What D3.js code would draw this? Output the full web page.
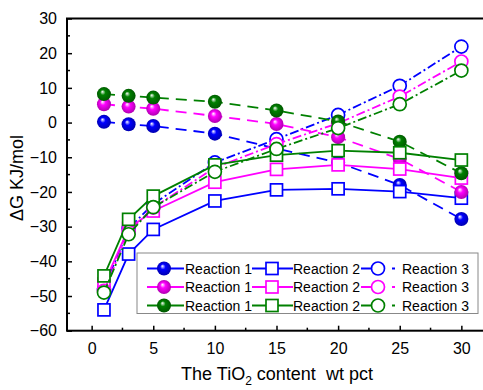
<!DOCTYPE html>
<html>
<head>
<meta charset="utf-8">
<script src="https://d3js.org/d3.v7.min.js"></script>
<style>
  body { margin: 0; background: #fff; }
  text { font-family: "Liberation Sans", Arial, sans-serif; }
</style>
</head>
<body>
<script>
    // TiO2 content, wt pct
    let tio2 = [1, 3, 5, 10, 15, 20, 25, 30];

    // Reaction 1 (spheres, dashed)
    let r1Blue    = [0.2, -0.5, -1.0, -3.2, -7.5, -11.5, -18.0, -27.8];
    let r1Magenta = [5.3, 4.6, 4.0, 1.9, -0.4, -4.2, -10.5, -20.0];
    let r1Green   = [8.2, 7.7, 7.2, 6.0, 3.5, 0.3, -5.5, -14.6];

    // Reaction 2 (open squares, solid)
    let r2Blue    = [-54.0, -37.9, -30.8, -22.6, -19.4, -19.1, -19.9, -21.8];
    let r2Magenta = [-46.5, -30.5, -25.5, -17.2, -13.5, -12.2, -13.4, -16.0];
    let r2Green   = [-44.2, -27.9, -21.2, -12.2, -9.4, -8.1, -8.7, -10.8];

    // Reaction 3 (open circles, dash-dot)
    let r3Blue    = [-48.0, -30.5, -23.5, -11.5, -4.8, 2.2, 10.6, 21.9];
    let r3Magenta = [-48.5, -31.5, -24.5, -13.0, -6.2, -0.2, 7.5, 17.6];
    let r3Green   = [-49.0, -32.2, -24.4, -14.2, -7.6, -1.6, 5.3, 15.0];

    let colors = ["#0000ff", "#ff00ff", "#008000"];
    let reactions = ["Reaction 1", "Reaction 2", "Reaction 3"];

    let xTicks = [0, 5, 10, 15, 20, 25, 30];
    let yTicks = [-60, -50, -40, -30, -20, -10, 0, 10, 20, 30];

    let series = [
        {color: 0, kind: 0, values: r1Blue},
        {color: 0, kind: 1, values: r2Blue},
        {color: 0, kind: 2, values: r3Blue},
        {color: 1, kind: 0, values: r1Magenta},
        {color: 1, kind: 1, values: r2Magenta},
        {color: 1, kind: 2, values: r3Magenta},
        {color: 2, kind: 0, values: r1Green},
        {color: 2, kind: 1, values: r2Green},
        {color: 2, kind: 2, values: r3Green}
    ];

    let dashes = ["11,7", null, "9,3,2,3"];

    let width = 483, height = 390;
    let mLeft = 67, mRight = 486, mTop = 18.5, mBottom = 330.7;

    let svg = d3.select("body").append("svg")
        .attr("width", width)
        .attr("height", height);

    let x = d3.scaleLinear().domain([-2, 32]).range([mLeft, mRight]);
    let y = d3.scaleLinear().domain([-60, 30]).range([mBottom, mTop]);

    // gradients for the shaded spheres
    let defs = svg.append("defs");
    colors.forEach((c, i) => {
        let g = defs.append("radialGradient")
            .attr("id", "ball" + i)
            .attr("cx", "50%").attr("cy", "50%").attr("r", "55%")
            .attr("fx", "38%").attr("fy", "32%");
        g.append("stop").attr("offset", "0%").attr("stop-color", "#ffffff");
        g.append("stop").attr("offset", "35%").attr("stop-color", c);
        g.append("stop").attr("offset", "100%").attr("stop-color", d3.color(c).darker(1.2));
    });

    // axes (ticks inward)
    let xAxis = d3.axisBottom(x).tickValues(xTicks).tickSizeInner(-5).tickSizeOuter(0).tickPadding(12);
    let yAxis = d3.axisLeft(y).tickValues(yTicks).tickSizeInner(-5).tickSizeOuter(0).tickPadding(10);

    let gx = svg.append("g").attr("transform", `translate(0,${mBottom})`).call(xAxis);
    let gy = svg.append("g").attr("transform", `translate(${mLeft},0)`).call(yAxis);
    [gx, gy].forEach(g => {
        g.select(".domain").remove();
        g.selectAll(".tick line").attr("stroke", "#000").attr("stroke-width", 1.5);
        g.selectAll(".tick text").attr("font-size", 16).attr("fill", "#000")
            .style("font-family", "'Liberation Sans', Arial, sans-serif");
    });

    // minor ticks
    let xMinor = d3.range(-2.5, 32, 5).filter(v => v > -2 && v < 32);
    let yMinor = d3.range(-55, 30, 10);
    svg.append("g").selectAll("line").data(xMinor).join("line")
        .attr("x1", d => x(d)).attr("x2", d => x(d))
        .attr("y1", mBottom).attr("y2", mBottom - 3)
        .attr("stroke", "#000").attr("stroke-width", 1.5);
    svg.append("g").selectAll("line").data(yMinor).join("line")
        .attr("x1", mLeft).attr("x2", mLeft + 3)
        .attr("y1", d => y(d)).attr("y2", d => y(d))
        .attr("stroke", "#000").attr("stroke-width", 1.5);

    // frame
    svg.append("rect")
        .attr("x", mLeft).attr("y", mTop)
        .attr("width", mRight - mLeft).attr("height", mBottom - mTop)
        .attr("fill", "none").attr("stroke", "#000").attr("stroke-width", 2);

    // axis titles
    svg.append("text")
        .attr("transform", "translate(23,178) rotate(-90)")
        .attr("text-anchor", "middle")
        .attr("font-size", 18)
        .text("ΔG KJ/mol");

    let xt = svg.append("text")
        .attr("x", 277).attr("y", 380)
        .attr("text-anchor", "middle")
        .attr("font-size", 18);
    xt.append("tspan").text("The TiO");
    xt.append("tspan").attr("font-size", 12).attr("dy", 5).text("2");
    xt.append("tspan").attr("dy", -5).text(" content\u00a0\u00a0wt pct");

    let line = d3.line().x((d, i) => x(tio2[i])).y(d => y(d));

    function drawMarker(g, kind, colorIdx, cx, cy) {
        let c = colors[colorIdx];
        if (kind === 0) {
            g.append("circle").attr("cx", cx).attr("cy", cy).attr("r", 7)
                .attr("fill", `url(#ball${colorIdx})`);
        } else if (kind === 1) {
            g.append("rect").attr("x", cx - 6).attr("y", cy - 6)
                .attr("width", 12).attr("height", 12)
                .attr("fill", "#fff").attr("stroke", c).attr("stroke-width", 1.7);
        } else {
            g.append("circle").attr("cx", cx).attr("cy", cy).attr("r", 6.5)
                .attr("fill", "#fff").attr("stroke", c).attr("stroke-width", 1.7);
        }
    }

    let plot = svg.append("g");
    series.forEach(s => {
        let g = plot.append("g");
        g.append("path")
            .datum(s.values)
            .attr("fill", "none")
            .attr("stroke", colors[s.color])
            .attr("stroke-width", 1.8)
            .attr("stroke-dasharray", dashes[s.kind])
            .attr("d", line);
        s.values.forEach((v, i) => drawMarker(g, s.kind, s.color, x(tio2[i]), y(v)));
    });

    // legend
    let lg = svg.append("g");
    lg.append("rect")
        .attr("x", 137).attr("y", 253)
        .attr("width", 341).attr("height", 60.5)
        .attr("fill", "#fff").attr("stroke", "#888").attr("stroke-width", 1);

    let rowY = [268.5, 287, 305.5];
    let itemX = [
        {x1: 147, x2: 184, m: 164, t: 185},
        {x1: 252, x2: 293, m: 272, t: 293},
        {x1: 361, x2: 395, m: 378, t: 402}
    ];
    colors.forEach((c, ci) => {
        reactions.forEach((r, k) => {
            let it = itemX[k];
            lg.append("line")
                .attr("x1", it.x1).attr("x2", it.x2)
                .attr("y1", rowY[ci]).attr("y2", rowY[ci])
                .attr("stroke", c).attr("stroke-width", 1.8)
                .attr("stroke-dasharray", k === 2 ? "10,21,3,10" : null);
            drawMarker(lg, k, ci, it.m, rowY[ci]);
            lg.append("text")
                .attr("x", it.t).attr("y", rowY[ci] + 5)
                .attr("font-size", 14)
                .text(r);
        });
    });
</script>
</body>
</html>
